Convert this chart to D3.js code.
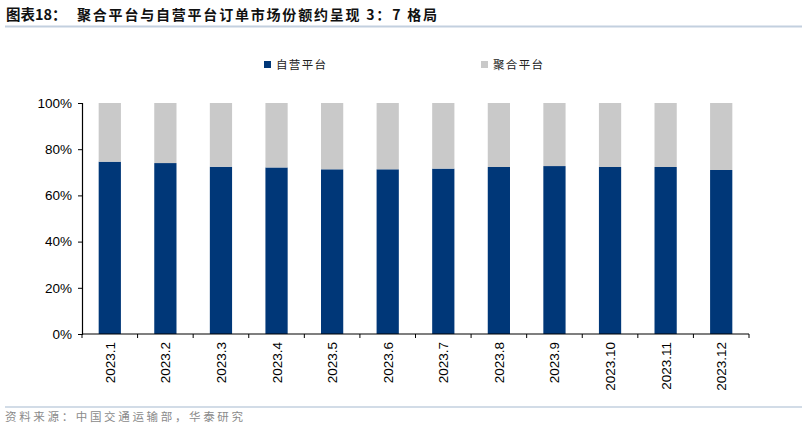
<!DOCTYPE html>
<html>
<head>
<meta charset="utf-8">
<script src="https://cdn.jsdelivr.net/npm/d3@7"></script>
<style>
  body { margin: 0; background: #fff; }
  svg { display: block; }
</style>
</head>
<body>
<svg id="chart"></svg>
<script>
// data
const months = ['2023.1','2023.2','2023.3','2023.4','2023.5','2023.6','2023.7','2023.8','2023.9','2023.10','2023.11','2023.12'];
const selfRun = [74.6,74.0,72.4,72.1,71.3,71.3,71.6,72.3,72.7,72.3,72.3,71.0];
const aggregated = [25.4,26.0,27.6,27.9,28.7,28.7,28.4,27.7,27.3,27.7,27.7,29.0];
const seriesNames = ['自营平台','聚合平台'];
const yTicks = [0,20,40,60,80,100];

const W = 808, H = 432;
const colors = ['#003778','#c9c9c9'];
const cjk = '"Noto Sans CJK SC", "Noto Sans", sans-serif';
const latin = '"Liberation Sans", Arial, sans-serif';

const svg = d3.select('#chart')
  .attr('width', W)
  .attr('height', H);

// title + rules
svg.append('text')
  .attr('x', 6).attr('y', 20)
  .style('font-family', cjk).style('font-size', '14.5px').style('font-weight', 'bold')
  .attr('fill', '#111')
  .text('图表18：');
svg.append('text')
  .attr('x', 77).attr('y', 20)
  .style('font-family', cjk).style('font-size', '14px').style('font-weight', 'bold')
  .attr('fill', '#111')
  .attr('textLength', 360).attr('lengthAdjust', 'spacing')
  .text('聚合平台与自营平台订单市场份额约呈现 3：7 格局');
svg.append('line')
  .attr('x1', 5).attr('x2', 802).attr('y1', 26.5).attr('y2', 26.5)
  .attr('stroke', '#c3d0df').attr('stroke-width', 2);
svg.append('line')
  .attr('x1', 5).attr('x2', 802).attr('y1', 407).attr('y2', 407)
  .attr('stroke', '#c3d0df').attr('stroke-width', 1.5);
svg.append('text')
  .attr('x', 5).attr('y', 421)
  .style('font-family', cjk).style('font-size', '11.5px')
  .attr('fill', '#8a8a8a')
  .attr('textLength', 238).attr('lengthAdjust', 'spacing')
  .text('资料来源：中国交通运输部，华泰研究');

// scales
const x = d3.scaleBand()
  .domain(months)
  .range([82, 749])
  .paddingInner(0.6)
  .paddingOuter(0.3);
const y = d3.scaleLinear()
  .domain([0, 100])
  .range([334, 103]);

// stacked bars
const rows = months.map((m, i) => ({month: m, 自营平台: selfRun[i], 聚合平台: aggregated[i]}));
const stacked = d3.stack().keys(seriesNames)(rows);

svg.selectAll('.layer')
  .data(stacked)
  .join('g')
  .attr('class', 'layer')
  .attr('fill', (d, i) => colors[i])
  .selectAll('rect')
  .data(d => d)
  .join('rect')
  .attr('x', d => x(d.data.month))
  .attr('y', d => y(d[1]))
  .attr('width', x.bandwidth())
  .attr('height', d => y(d[0]) - y(d[1]));

// y axis
const yAxis = d3.axisLeft(y)
  .tickValues(yTicks)
  .tickFormat(d => d + '%')
  .tickSize(4)
  .tickPadding(6);
const gy = svg.append('g')
  .attr('transform', 'translate(82,0)')
  .call(yAxis);
gy.select('.domain').attr('stroke', '#000').attr('stroke-width', 1.2);
gy.selectAll('.tick line').attr('stroke', '#000');
gy.selectAll('.tick text')
  .style('font-family', latin).style('font-size', '13.5px').attr('fill', '#000');

// x axis: ticks on band boundaries
const step = x.step();
const gx = svg.append('g')
  .attr('transform', 'translate(0,334)');
gx.append('line')
  .attr('x1', 82).attr('x2', 749)
  .attr('stroke', '#000').attr('stroke-width', 1.2);
gx.selectAll('.xtick')
  .data(months.concat(['end']))
  .join('line')
  .attr('class', 'xtick')
  .attr('x1', (d, i) => 82 + i * step)
  .attr('x2', (d, i) => 82 + i * step)
  .attr('y1', 0).attr('y2', 4)
  .attr('stroke', '#000');
gx.selectAll('.xlabel')
  .data(months)
  .join('text')
  .attr('class', 'xlabel')
  .attr('transform', d => `translate(${x(d) + x.bandwidth() / 2 + 5},8) rotate(-90)`)
  .attr('text-anchor', 'end')
  .style('font-family', latin).style('font-size', '13.5px')
  .attr('fill', '#000')
  .text(d => d);

// legend
const legendX = [264, 481];
const lg = svg.selectAll('.legend')
  .data(seriesNames)
  .join('g')
  .attr('class', 'legend')
  .attr('transform', (d, i) => `translate(${legendX[i]},61)`);
lg.append('rect')
  .attr('width', 7).attr('height', 7)
  .attr('fill', (d, i) => colors[i]);
lg.append('text')
  .attr('x', 12).attr('y', 8)
  .style('font-family', cjk).style('font-size', '11.5px')
  .attr('fill', '#222')
  .attr('textLength', 50).attr('lengthAdjust', 'spacing')
  .text(d => d);
</script>
</body>
</html>
